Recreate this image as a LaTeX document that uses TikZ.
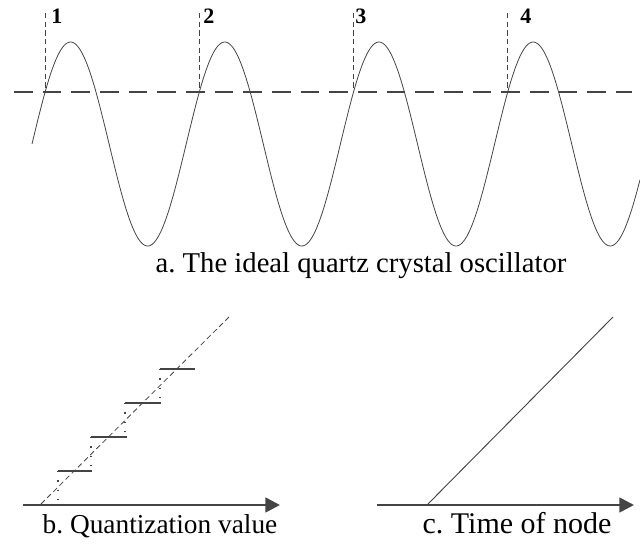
\documentclass[tikz,border=0pt]{standalone}
\usepackage{fontspec}
\setmainfont{Liberation Serif}
\usetikzlibrary{arrows.meta}
\definecolor{lc}{HTML}{444444}
\tikzset{
  midline/.style={draw=lc,line width=2pt,dash pattern=on 14pt off 7.5pt},
  vmark/.style={draw=lc,line width=0.5pt,dash pattern=on 4pt off 2.5pt},
  wave/.style={draw=lc,line width=0.6pt},
  axis/.style={draw=lc,line width=2pt,-{Triangle[length=11pt,width=11pt]}},
  diag/.style={draw=lc,line width=0.6pt,dash pattern=on 4pt off 2.5pt},
  bar/.style={draw=lc,line width=1.2pt},
  dotv/.style={draw=lc,line width=1pt,dash pattern=on 1pt off 6pt},
  ramp/.style={draw=lc,line width=0.7pt},
  num/.style={font=\fontsize{16.5}{18}\selectfont\bfseries,inner sep=0pt,anchor=base west},
  captext/.style={font=\fontsize{21.5}{26}\selectfont\frenchspacing,inner sep=0pt,anchor=base}
}
\begin{document}
\begin{tikzpicture}[x=0.75pt,y=-0.75pt]
\useasboundingbox (0,0) rectangle (640,546);
% part a
\coordinate (mL) at (14,92);
\coordinate (mR) at (632,92);
\draw[midline] (mL) -- (mR);
\draw[wave] plot[domain=32:640,samples=400,smooth] ({\x},{144-102*sin(2.33463*(\x-32))});
\foreach \i/\xx/\lx in {1/44.9/51,2/199.1/203,3/353.3/355,4/507.5/520}{
  \coordinate (t\i) at (\xx,13);
  \coordinate (c\i) at (\xx,92);
  \draw[vmark] (t\i) -- (c\i);
  \node[num] (n\i) at (\lx,23) {\i};
}
\node[captext] (capa) at (361,272) {a. The ideal quartz crystal oscillator};
% part b
\coordinate (bS) at (23,505);
\coordinate (bE) at (280,505);
\draw[axis] (bS) -- (bE);
\coordinate (d0) at (41,504);
\coordinate (d1) at (229,317);
\draw[diag] (d0) -- (d1);
\foreach \k/\xa/\xb/\yy/\yl in {1/58/92/471/502,2/91/127/437/471,3/125/161/403/437,4/160/195/369/403}{
  \coordinate (bl\k) at (\xa,\yy);
  \coordinate (br\k) at (\xb,\yy);
  \coordinate (bd\k) at (\xa,\yl);
  \draw[bar] (bl\k) -- (br\k);
  \draw[dotv] (bl\k) -- (bd\k);
}
\node[captext,font=\fontsize{20.5}{25}\selectfont\frenchspacing] (capb) at (160,533) {b. Quantization value};
% part c
\coordinate (cS) at (377,505);
\coordinate (cE) at (634,505);
\draw[axis] (cS) -- (cE);
\coordinate (r0) at (427,505);
\coordinate (r1) at (613,317);
\draw[ramp] (r0) -- (r1);
\node[captext,font=\fontsize{22.5}{27}\selectfont\frenchspacing] (capc) at (517,533) {c. Time of node};
\end{tikzpicture}
\end{document}
